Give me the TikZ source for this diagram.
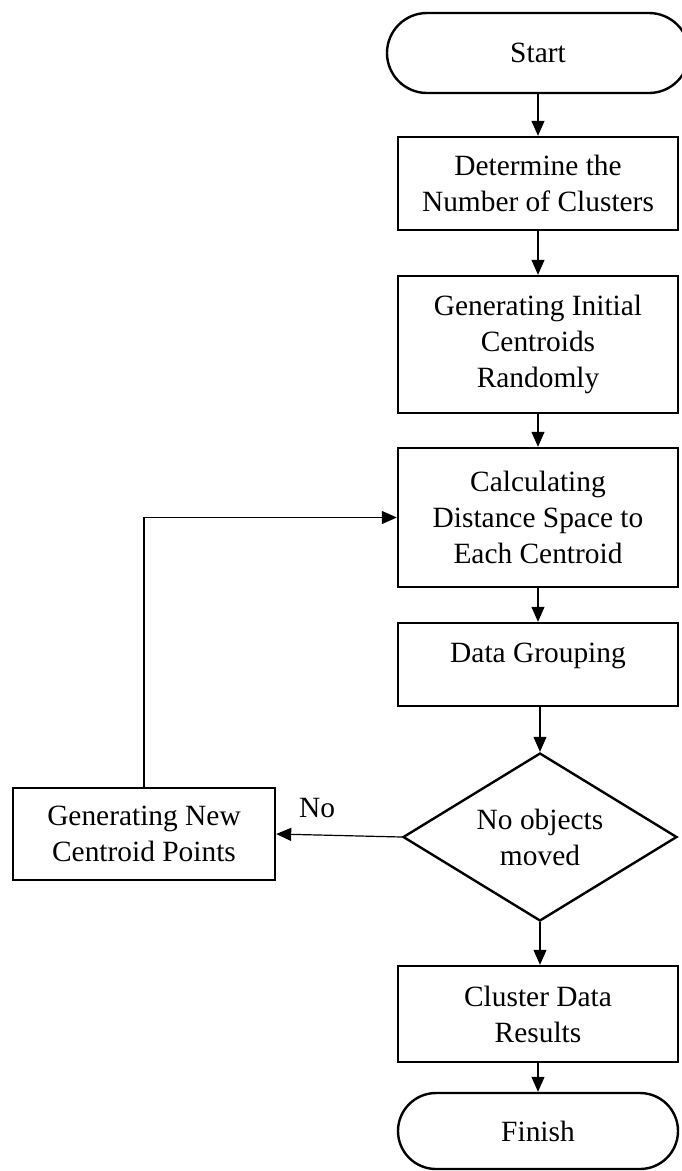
\documentclass[tikz,border=0pt]{standalone}
\usepackage{fontspec}
\setmainfont{Liberation Serif}
\usetikzlibrary{arrows.meta,shapes.geometric}
\begin{document}
\begin{tikzpicture}[x=1pt,y=-1pt,
 font=\fontsize{29.4}{36}\selectfont,
 proc/.style={draw,line width=2.4pt,minimum width=280pt,align=center,inner sep=0pt},
 term/.style={draw,line width=2.4pt,align=center,inner sep=0pt},
 decision/.style={draw,line width=2.4pt,diamond,aspect=1.63,minimum width=274pt,minimum height=168pt,inner sep=0pt,align=center},
 conn/.style={line width=1.2pt,-{Triangle[length=15pt,width=13pt]}},
 plain/.style={inner sep=0pt}]
\useasboundingbox (0,0) rectangle (681,1171);
\node[term, rounded corners=40pt, minimum width=302pt, minimum height=80pt] (start) at (538,53) {Start};
\node[proc, minimum height=93pt] (b1) at (538,183.5) {Determine the\\Number of Clusters};
\node[proc, minimum height=137pt] (b2) at (538,344.5) {Generating Initial\\Centroids\\Randomly};
\node[proc, minimum height=139pt] (b3) at (538,517.5) {Calculating\\Distance Space to\\Each Centroid};
\node[proc, minimum height=83pt] (b4) at (538,664.5) {};
\node[plain] (b4t) at (538,656) {Data Grouping};
\node[decision] (dec) at (540,837) {No objects\\moved};
\node[proc, minimum width=262pt, minimum height=92pt] (new) at (144,834) {Generating New\\Centroid Points};
\node[proc, minimum height=96pt] (b5) at (538,1014) {Cluster Data\\Results};
\node[term, rounded corners=38pt, minimum width=280pt, minimum height=76pt] (fin) at (538,1131) {Finish};
\node[plain] (no) at (317,808) {No};
\draw[conn] (start) -- (b1);
\draw[conn] (b1) -- (b2);
\draw[conn] (b2) -- (b3);
\draw[conn] (b3) -- (b4);
\draw[conn] (b4.south -| dec.north) -- (dec.north);
\draw[conn] (dec.south) -- (dec.south |- b5.north);
\draw[conn] (b5) -- (fin);
\draw[conn] (dec.west) -- (new.east);
\draw[conn] (new.north) |- (b3.west);
\end{tikzpicture}
\end{document}
